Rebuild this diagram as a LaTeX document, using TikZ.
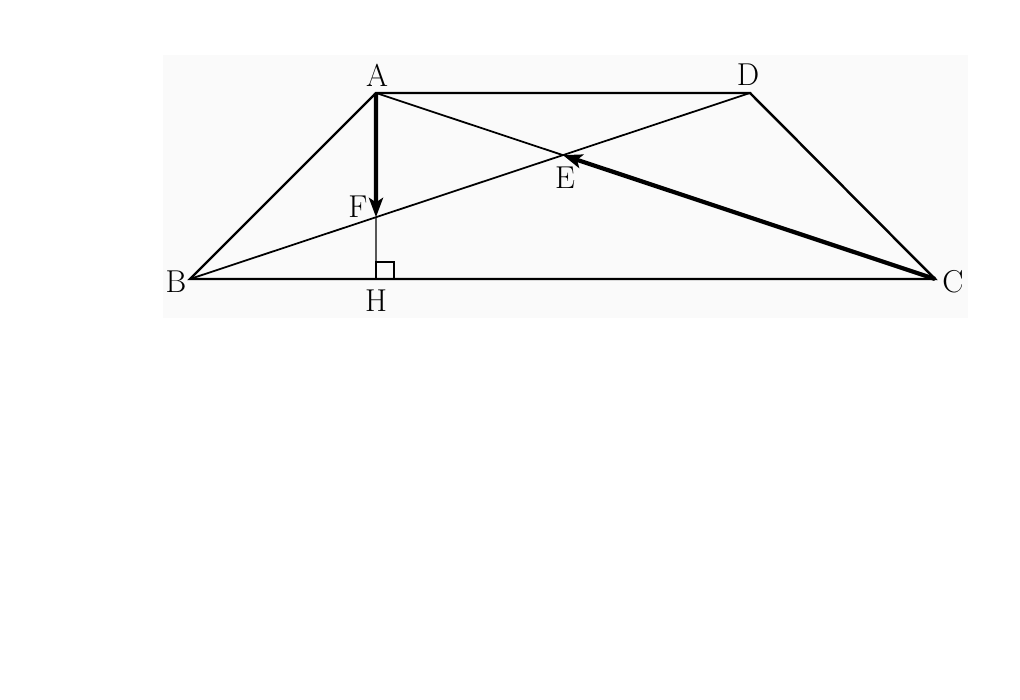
\documentclass[tikz,border=0pt]{standalone}
\usetikzlibrary{arrows.meta}

\begin{document}
\begin{tikzpicture}[
  every node/.style={font=\fontsize{18}{20}\selectfont, inner sep=1pt},
  side/.style={line width=1.4pt},
  diag/.style={line width=1pt},
  vec/.style={line width=2.4pt, -{Stealth[length=11pt, width=8pt, inset=2.5pt]}}
]
  \useasboundingbox (0, 0) rectangle (20.4, 14);
  \fill[black!2] (3.26, 7.64) rectangle (19.36, 12.9);

  \coordinate (A) at (7.52, 12.14);
  \coordinate (D) at (15.0, 12.14);
  \coordinate (B) at (3.8, 8.42);
  \coordinate (C) at (18.7, 8.42);
  \coordinate (H) at (7.52, 8.42);
  \coordinate (E) at (intersection of A--C and B--D);
  \coordinate (F) at (intersection of A--H and B--D);

  \draw[side] (A) -- (D) -- (C) -- (B) -- cycle;
  \draw[diag] (A) -- (E);
  \draw[diag] (B) -- (D);
  \draw[line width=0.6pt] (F) -- (H);
  \draw[line width=0.6pt] (H) rectangle ++(0.36, 0.34);

  \draw[vec] (A) -- (F);
  \draw[vec] (C) -- (E);

  \node (lA) at (7.54, 12.5) {A};
  \node (lD) at (14.96, 12.5) {D};
  \node (lB) at (3.52, 8.36) {B};
  \node (lC) at (19.06, 8.36) {C};
  \node (lH) at (7.52, 7.98) {H};
  \node (lE) at (11.3, 10.44) {E};
  \node (lF) at (7.16, 9.86) {F};

\end{tikzpicture}
\end{document}
